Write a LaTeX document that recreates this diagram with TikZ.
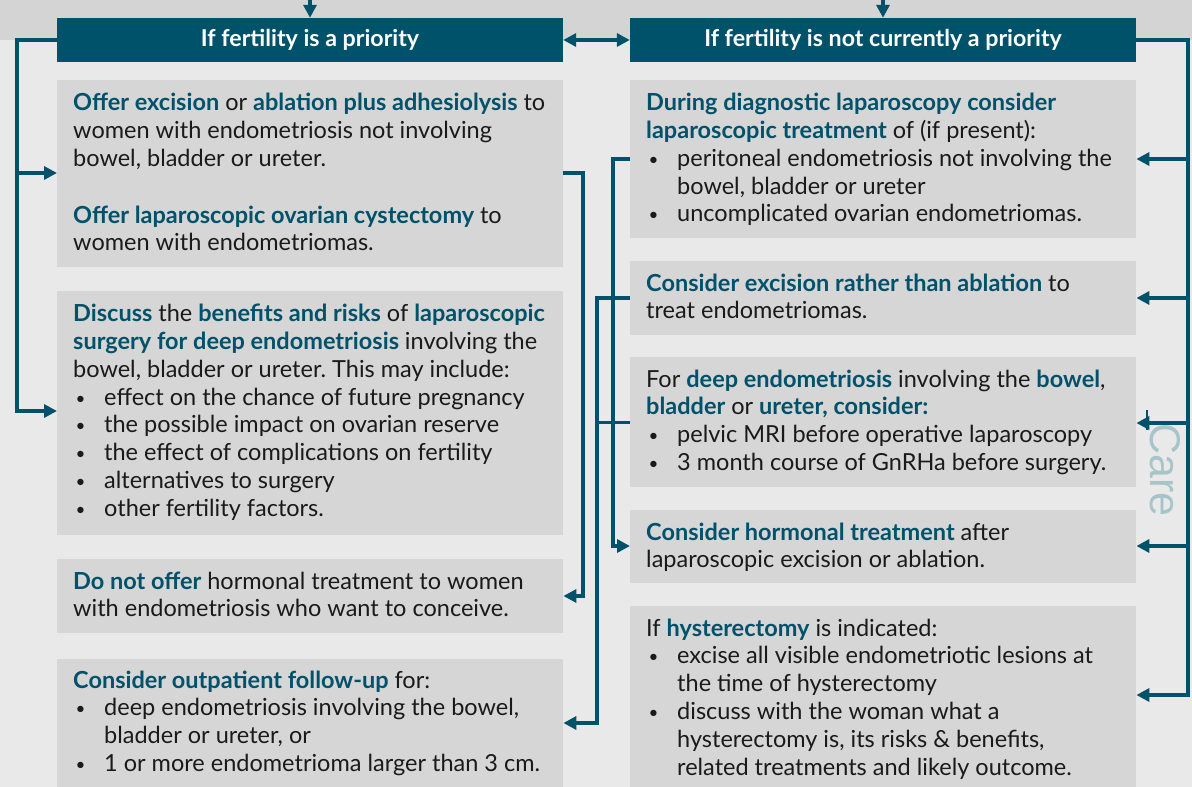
\documentclass[tikz,border=0pt]{standalone}
\usepackage{fontspec}
\setmainfont{Lato}
\newfontfamily\carefont{Liberation Sans}
\usetikzlibrary{arrows.meta}
\frenchspacing

\definecolor{navy}{RGB}{0,81,106}
\definecolor{pagebg}{RGB}{233,233,233}
\definecolor{bandbg}{RGB}{212,212,212}
\definecolor{panelbg}{RGB}{214,214,214}
\definecolor{bodytext}{RGB}{26,26,26}
\definecolor{carecol}{RGB}{167,197,201}

% highlighted phrase, bullet item and hanging indent
\newcommand\hl[1]{{\bfseries\color{navy}#1}}
\newcommand\bul{\makebox[31pt][l]{\hspace{2.5pt}\raisebox{1pt}{\fontsize{17}{17}\selectfont\textbullet}}}
\newcommand\ind{\hspace*{31pt}}

\tikzset{
  panel/.style={draw=none, fill=panelbg, anchor=north west, inner sep=0pt},
  header/.style={fill=navy, text=white, inner sep=0pt, minimum height=44pt,
    minimum width=506pt, font=\fontsize{23.2}{26}\selectfont\bfseries},
  boxtext/.style={anchor=north west, inner sep=0pt, align=left,
    text=bodytext, font=\fontsize{23.5}{27.8}\selectfont},
  conn/.style={draw=navy, line width=3.4pt},
  arr/.style={conn, -{Triangle[length=13pt,width=13pt]}},
  biarr/.style={conn, {Triangle[length=13pt,width=13pt]}-{Triangle[length=13pt,width=13pt]}},
}

\begin{document}
\begin{tikzpicture}[x=1pt,y=-1pt]
  \useasboundingbox (0,0) rectangle (1192,787);
  \fill[pagebg] (0,0) rectangle (1192,787);
  \fill[bandbg] (0,0) rectangle (1192,40);

  % headers
  \node[header] (HL) at (310,40) {If fertility is a priority};
  \node[header] (HR) at (883,40) {If fertility is not currently a priority};

  % left column panels
  \node[panel, minimum width=506pt, minimum height=187pt] (L1) at (57,80) {};
  \node[panel, minimum width=506pt, minimum height=244pt] (L2) at (57,291) {};
  \node[panel, minimum width=506pt, minimum height=74pt]  (L3) at (57,559) {};
  \node[panel, minimum width=506pt, minimum height=128pt] (L4) at (57,659) {};

  % right column panels
  \node[panel, minimum width=506pt, minimum height=158pt] (R1) at (630,80) {};
  \node[panel, minimum width=506pt, minimum height=74pt]  (R2) at (630,261) {};
  \node[panel, minimum width=506pt, minimum height=130pt] (R3) at (630,357) {};
  \node[panel, minimum width=506pt, minimum height=73pt]  (R4) at (630,510) {};
  \node[panel, minimum width=506pt, minimum height=181pt] (R5) at (630,606) {};

  % left column texts
  \node[boxtext] (tL1) at (73,91) {\strut\hl{Offer excision} or \hl{ablation plus adhesiolysis} to\\
    women with endometriosis not involving\\
    bowel, bladder or ureter.\\[29pt]
    \hl{Offer laparoscopic ovarian cystectomy} to\\
    women with endometriomas.};
  \node[boxtext] (tL2) at (73,302) {\strut\hl{Discuss} the \hl{benefits and risks} of \hl{laparoscopic}\\
    \hl{surgery for deep endometriosis} involving the\\
    bowel, bladder or ureter. This may include:\\
    \bul effect on the chance of future pregnancy\\
    \bul the possible impact on ovarian reserve\\
    \bul the effect of complications on fertility\\
    \bul alternatives to surgery\\
    \bul other fertility factors.};
  \node[boxtext] (tL3) at (73,569.5) {\strut\hl{Do not offer} hormonal treatment to women\\
    with endometriosis who want to conceive.};
  \node[boxtext] (tL4) at (73,668.5) {\strut\hl{Consider outpatient follow-up} for:\\
    \bul deep endometriosis involving the bowel,\\
    \ind bladder or ureter, or\\
    \bul 1 or more endometrioma larger than 3 cm.};

  % right column texts
  \node[boxtext] (tR1) at (646,91) {\strut\hl{During diagnostic laparoscopy consider}\\
    \hl{laparoscopic treatment} of (if present):\\
    \bul peritoneal endometriosis not involving the\\
    \ind bowel, bladder or ureter\\
    \bul uncomplicated ovarian endometriomas.};
  \node[boxtext] (tR2) at (646,271.5) {\strut\hl{Consider excision rather than ablation} to\\
    treat endometriomas.};
  \node[boxtext] (tR3) at (646,367.5) {\strut For \hl{deep endometriosis} involving the \hl{bowel},\\
    \hl{bladder} or \hl{ureter, consider:}\\
    \bul pelvic MRI before operative laparoscopy\\
    \bul 3 month course of GnRHa before surgery.};
  \node[boxtext] (tR4) at (646,520.5) {\strut\hl{Consider hormonal treatment} after\\
    laparoscopic excision or ablation.};
  \node[boxtext] (tR5) at (646,616.5) {\strut If \hl{hysterectomy} is indicated:\\
    \bul excise all visible endometriotic lesions at\\
    \ind the time of hysterectomy\\
    \bul discuss with the woman what a\\
    \ind hysterectomy is, its risks \& benefits,\\
    \ind related treatments and likely outcome.};

  % side label
  \node[text=carecol, font=\carefont\fontsize{43}{43}\selectfont, rotate=-90,
        inner sep=0pt] (care) at (1165,470) {Care};

  % incoming arrows from above
  \coordinate (topL) at (310,0);
  \coordinate (topR) at (883,0);
  \draw[arr] (topL) -- (HL.north);
  \draw[arr] (topR) -- (HR.north);

  % link between the two headers
  \draw[biarr] (HL.east) -- (HR.west);

  % left bus
  \coordinate (lbus) at (17,411);
  \coordinate (lj1) at (17,173);
  \draw[arr] (HL.west) -| (lbus) -- (L2.west |- lbus);
  \draw[arr] (lj1) -- (L1.west |- lj1);

  % right bus
  \coordinate (rbus) at (1188,695);
  \coordinate (rj1) at (1188,159);
  \coordinate (rj2) at (1188,298);
  \coordinate (rj3) at (1188,423);
  \coordinate (rj4) at (1188,546);
  \draw[arr] (HR.east) -| (rbus) -- (R5.east |- rbus);
  \draw[arr] (rj1) -- (R1.east |- rj1);
  \draw[arr] (rj2) -- (R2.east |- rj2);
  \draw[arr] (rj3) -- (R3.east |- rj3);
  \draw[arr] (rj4) -- (R4.east |- rj4);
  \draw[navy, line width=2pt] (1147,410) -- (1147,430);

  % cross links between the columns
  \coordinate (a1) at (583,173);
  \coordinate (a2) at (583,596);
  \draw[arr] (L1.east |- a1) -- (a1) -- (a2) -- (L3.east |- a2);

  \coordinate (b1) at (613,159);
  \coordinate (b2) at (613,546);
  \draw[arr] (R1.west |- b1) -- (b1) -- (b2) -- (R4.west |- b2);

  \coordinate (c1) at (597,298);
  \coordinate (c2) at (597,723);
  \draw[arr] (R2.west |- c1) -- (c1) -- (c2) -- (L4.east |- c2);
  \draw[conn] (R3.west) -- (R3.west -| c1);
\end{tikzpicture}
\end{document}
